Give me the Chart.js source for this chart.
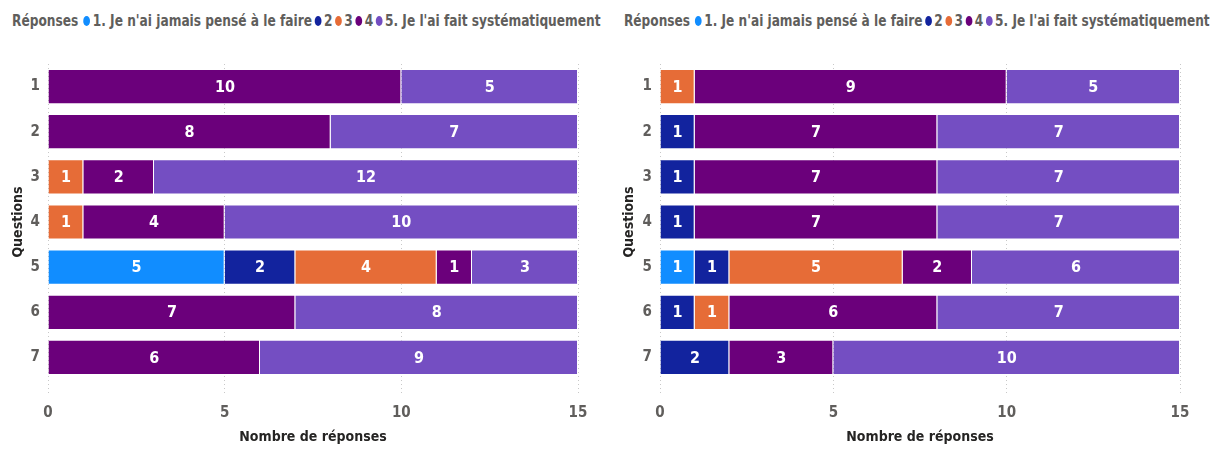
<!DOCTYPE html>
<html lang="fr">
<head>
<meta charset="utf-8">
<script src="https://cdn.jsdelivr.net/npm/chart.js@4/dist/chart.umd.min.js"></script>
<style>
	html, body { margin: 0; padding: 0; background: #fff; }
	body { width: 1222px; height: 458px; position: relative; overflow: hidden; font-family: 'Liberation Sans Narrow', 'DejaVu Sans Condensed', sans-serif; }
	.panel { position: absolute; top: 0; width: 611px; height: 458px; }
	.panel canvas { position: absolute; left: 0; top: 0; }
	.legend { position: absolute; top: 11px; display: flex; align-items: center; white-space: nowrap; font-weight: bold; font-size: 16px; color: #605E5C; transform-origin: left center; }
	.legend .title { margin-right: 6px; }
	.legend .item { display: flex; align-items: center; margin-right: 3px; }
	.legend .dot { width: 8px; height: 10px; border-radius: 50%; margin-right: 3px; }
</style>
</head>
<body>
<div class="panel" style="left:0"><div class="legend" id="legendLeft" style="left:12px"></div><canvas id="chartLeft"></canvas></div>
<div class="panel" style="left:611px"><div class="legend" id="legendRight" style="left:13px"></div><canvas id="chartRight"></canvas></div>
<script>
const questions = ['1', '2', '3', '4', '5', '6', '7'];
const answerLabels = ["1. Je n'ai jamais pensé à le faire", '2', '3', '4', "5. Je l'ai fait systématiquement"];
const answerColors = ['#118DFF', '#12239E', '#E66C37', '#6B007B', '#744EC2'];
const xTicks = [0, 5, 10, 15];

// left panel, one array per answer
const left1 = [null, null, null, null, 5, null, null];
const left2 = [null, null, null, null, 2, null, null];
const left3 = [null, null, 1, 1, 4, null, null];
const left4 = [10, 8, 2, 4, 1, 7, 6];
const left5 = [5, 7, 12, 10, 3, 8, 9];

// right panel
const right1 = [null, null, null, null, 1, null, null];
const right2 = [null, 1, 1, 1, 1, 1, 2];
const right3 = [1, null, null, null, 5, 1, null];
const right4 = [9, 7, 7, 7, 2, 6, 3];
const right5 = [5, 7, 7, 7, 6, 7, 10];

const FONT = "'Liberation Sans Narrow', 'DejaVu Sans Condensed', sans-serif";

function buildLegend(id, width) {
	const box = document.getElementById(id);
	box.innerHTML = '<span class="title">Réponses</span>';
	answerLabels.forEach((label, i) => {
		const item = document.createElement('span');
		item.className = 'item';
		item.innerHTML = `<span class="dot" style="background:${answerColors[i]}"></span>${label}`;
		box.append(item);
	});
	// squeeze the line so it fits the panel width
	const k = width / box.scrollWidth;
	if (k < 1) box.style.transform = `scaleX(${k})`;
}

// white value in the middle of each segment
const segmentLabels = {
	id: 'segmentLabels',
	afterDatasetsDraw(chart) {
		const ctx = chart.ctx;
		ctx.save();
		ctx.fillStyle = '#fff';
		ctx.font = `bold 16px ${FONT}`;
		ctx.textAlign = 'center';
		ctx.textBaseline = 'middle';
		chart.data.datasets.forEach((ds, di) => {
			chart.getDatasetMeta(di).data.forEach((bar, i) => {
				const v = ds.data[i];
				if (v == null) return;
				const p = bar.getCenterPoint();
				ctx.fillText(String(v), p.x, p.y + 1);
			});
		});
		ctx.restore();
	}
};

function makeChart(id, series, axisLeft, padRight) {
	const canvas = document.getElementById(id);
	canvas.width = 611;
	canvas.height = 458;
	return new Chart(canvas, {
		type: 'bar',
		data: {
			labels: questions,
			datasets: series.map((data, i) => ({
				label: answerLabels[i],
				data,
				backgroundColor: answerColors[i],
				borderColor: 'rgba(255,255,255,0.55)',
				borderWidth: 1,
				barPercentage: 0.78,
				categoryPercentage: 1
			}))
		},
		options: {
			indexAxis: 'y',
			responsive: false,
			animation: false,
			layout: { padding: { left: 4, right: padRight, top: 64, bottom: 8 } },
			plugins: { legend: { display: false }, tooltip: { enabled: false } },
			scales: {
				x: {
					stacked: true,
					min: 0,
					max: 15,
					afterBuildTicks: s => { s.ticks = xTicks.map(v => ({ value: v })); },
					afterFit: s => { s.height = 70; },
					grid: { color: '#C8C8C8', tickColor: '#C8C8C8', tickLength: 16, tickBorderDash: [1, 3] },
					border: { display: false, dash: [1, 3] },
					ticks: { color: '#605E5C', font: { family: FONT, size: 15, weight: 'bold' }, padding: 8, maxRotation: 0 },
					title: { display: true, text: 'Nombre de réponses', color: '#252423', font: { family: FONT, size: 14, weight: 'bold' }, padding: { top: 4, bottom: 4 } }
				},
				y: {
					stacked: true,
					afterFit: s => { s.width = axisLeft - 4; },
					grid: { display: false, drawTicks: false },
					border: { display: false },
					ticks: { color: '#605E5C', font: { family: FONT, size: 15, weight: 'bold' }, padding: 8 },
					title: { display: true, text: 'Questions', color: '#252423', font: { family: FONT, size: 14, weight: 'bold' }, padding: { top: 6, bottom: 4 } }
				}
			}
		},
		plugins: [segmentLabels]
	});
}

buildLegend('legendLeft', 591);
buildLegend('legendRight', 588);
makeChart('chartLeft', [left1, left2, left3, left4, left5], 48, 33);
makeChart('chartRight', [right1, right2, right3, right4, right5], 49, 42);
</script>
</body>
</html>
